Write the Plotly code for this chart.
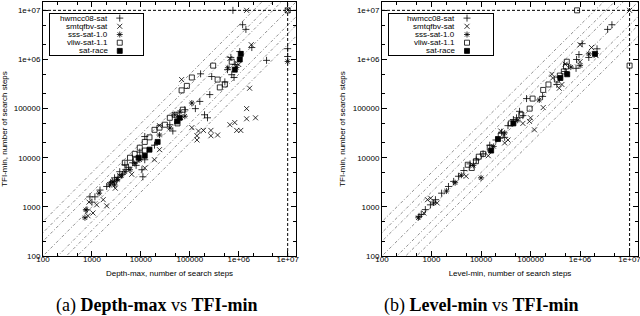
import plotly.graph_objects as go

# ---------------- data: (a) Depth-max vs TFI-min ----------------
a_hwmcc_x = [7.6e5, 1e7, 1e7, 3.7e6, 1.2e6, 1.4e6, 1.85e6, 1.05e6, 6.9e5, 8.5e5, 5.9e5, 7.2e5, 5.2e5, 8.0e5,
             1.66e5, 2.8e5, 2.56e5, 1.6e5, 2.0e5, 2.3e5, 1.3e5, 7.9e4, 6.2e4, 3.9e4, 4.5e4, 1.2e4, 1.9e4,
             1.1e4, 1.05e4, 1.2e4, 6.8e3, 9.5e3, 4.7e3, 5.6e3, 3.7e3, 2.9e3, 2.4e3, 2.0e3, 1.46e3, 1.15e3,
             910, 1.0e3, 790, 3.2e3, 4.2e3, 8.0e3, 2.6e3, 3.4e3, 5.0e3]
a_hwmcc_y = [1e7, 1.66e6, 1.15e6, 9.6e5, 5.1e6, 4.1e6, 1.75e6, 1.45e6, 1.1e6, 7.9e5, 6.2e5, 4.9e5, 3.5e5, 4.3e5,
             5.1e5, 4.5e5, 1.93e5, 1.4e5, 7.5e4, 6.5e4, 1.0e5, 9.5e4, 6.0e4, 4.7e4, 3.5e4, 2.7e4, 1.8e4,
             4.1e3, 5.7e3, 9.1e3, 7.9e3, 1.3e4, 7.2e3, 6.4e3, 5.2e3, 3.9e3, 3.1e3, 2.6e3, 2.2e3, 1.6e3,
             1.6e3, 1.25e3, 870, 3.4e3, 4.6e3, 7.0e3, 3.3e3, 4.0e3, 5.8e3]

a_smt_x = [1.45e6, 1e7, 6.6e5, 1.8e6, 1.0e6, 1.67e6, 1.45e6, 1.45e6, 2.2e6, 6.6e5, 8.3e5, 9.1e5, 1.1e6,
           3.7e5, 2.7e5, 2.7e5, 1.5e5, 1.9e5, 1.4e5, 1.4e5, 1.1e5, 6.8e4, 2.4e4, 1.2e4, 1.9e4, 1.7e3,
           2.0e3, 870, 830, 1.05e3, 1.25e3, 3.7e3, 2.4e4, 3.0e3, 6.5e3]
a_smt_y = [1e7, 1e7, 1.05e6, 2.0e6, 7.9e5, 2.6e5, 1.0e5, 6.2e4, 6.5e4, 4.7e4, 5.2e4, 3.6e4, 3.6e4,
           2.9e4, 2.8e4, 3.6e4, 3.5e4, 3.6e4, 2.3e4, 2.8e4, 4.1e4, 3.9e5, 4.5e4, 6.2e3, 9.1e3, 1.4e3,
           1.05e3, 1.25e3, 660, 750, 1.1e3, 4.3e3, 1.46e4, 2.4e3, 4.6e3]

a_sss_x = [1e7, 750, 720, 2.3e3, 2.9e3, 4.7e3, 6.0e3, 7.5e3, 9.5e3, 4.9e4, 7.9e4, 6.2e4, 6.0e5, 9.0e5,
           2.4e4, 3.9e4, 3.3e3, 1.4e3, 1.1e5, 2.7e3, 4.0e3]
a_sss_y = [9.1e5, 870, 600, 2.8e3, 2.8e3, 5.2e3, 5.7e3, 7.6e3, 9.1e3, 7.5e4, 7.0e4, 8.5e4, 6.8e5, 6.9e5,
           2.9e4, 4.0e4, 3.6e3, 1.9e3, 1.3e5, 3.2e3, 4.3e3]

a_vliw_x = [1e7, 3.0e5, 1.1e5, 8.7e4, 6.8e4, 7.2e4, 3.7e5, 4.1e5, 5.2e5, 7.2e5, 4.9e4, 3.9e4, 3.1e4,
            2.4e4, 1.9e4, 1.5e4, 1.2e4, 9.5e3, 7.5e3, 7.9e3, 4.7e3, 6.0e3, 1.2e4, 5.6e4]
a_vliw_y = [1e7, 7.5e5, 4.3e5, 2.9e5, 2.35e5, 9.5e4, 3.9e5, 2.7e5, 3.1e5, 9.0e5, 7.5e4, 6.5e4, 4.7e4,
            4.1e4, 3.7e4, 2.6e4, 2.1e4, 1.6e4, 1.2e4, 9.1e3, 7.9e3, 1.0e4, 1.4e4, 5.0e4]

a_race_x = [1.1e6, 1.05e6, 8.3e5, 6.2e4, 5.5e4, 2.2e4, 1.5e4, 1.2e4, 9.0e3]
a_race_y = [1.3e6, 1.0e6, 6.2e5, 6.5e4, 5.5e4, 2.1e4, 1.46e4, 1.1e4, 1.0e4]

# ---------------- data: (b) Level-min vs TFI-min ----------------
b_hwmcc_x = [4.4e6, 3.6e6, 1.1e6, 2.2e6, 9.5e5, 1.5e6, 8.5e5, 8.3e5, 5.0e5, 3.4e5, 1.75e5, 8.3e4, 6.0e4,
             4.5e4, 3.5e4, 2.6e4, 1.5e4, 1.1e4, 8.0e3, 6.0e3, 4.5e3, 3.5e3, 2.8e3, 2.2e3, 1.6e3, 1.2e3,
             950, 750, 620, 560, 2.0e4, 5.2e4, 7.0e4, 3.0e4]
b_hwmcc_y = [5.1e6, 4.1e6, 2.1e6, 1.65e6, 1.26e6, 1.1e6, 1.0e6, 6.6e5, 5.7e5, 3.1e5, 1.77e5, 1.6e5, 8.8e4,
             6.0e4, 4.5e4, 3.3e4, 1.8e4, 1.2e4, 9.0e3, 7.5e3, 5.5e3, 4.2e3, 3.3e3, 2.6e3, 1.9e3, 1.4e3,
             1.1e3, 880, 700, 640, 2.3e4, 6.5e4, 7.2e4, 2.6e4]

b_smt_x = [1e7, 1.0e6, 1.7e6, 1.0e6, 2.1e6, 5.0e5, 2.7e5, 4.3e5, 3.8e5, 2.8e5, 1.8e5, 1.2e5, 9.5e4, 1.0e5,
           3.5e4, 3.0e4, 7.0e4, 830, 960, 700, 1.3e3, 5.0e3, 2.5e4, 1.4e4]
b_smt_y = [1e7, 2.0e6, 1.75e6, 9.0e5, 1.2e6, 8.0e5, 5.0e5, 3.1e5, 2.6e5, 4.2e5, 1.05e5, 3.7e4, 5.5e4, 6.5e4,
           2.3e4, 2.0e4, 5.0e4, 1.4e3, 1.5e3, 750, 1.2e3, 4.2e3, 3.5e4, 1.1e4]

b_sss_x = [1.5e6, 1.0e6, 540, 1.0e4, 3.0e4, 5.5e4, 1.5e5, 2.0e3, 3.0e3, 4.0e3, 7.0e3, 1.1e3, 1.8e4, 6.5e5]
b_sss_y = [1.3e6, 7.5e5, 600, 3.9e3, 3.2e4, 5.8e4, 1.5e5, 2.1e3, 3.1e3, 4.4e3, 7.0e3, 1.2e3, 1.7e4, 7.0e5]

b_vliw_x = [8.7e5, 1e7, 5.4e5, 5.2e5, 4.7e5, 3.9e5, 3.4e5, 2.3e5, 1.8e5, 1.1e5, 9.6e4, 1.1e4, 5.4e3,
            7.9e3, 6.5e4, 4.0e4, 1.5e4, 9.0e3, 2.5e4, 6.5e3]
b_vliw_y = [1e7, 7.5e5, 9.0e5, 7.2e5, 5.7e5, 4.7e5, 3.9e5, 3.1e5, 2.4e5, 1.6e5, 1.0e5, 1.2e4, 7.2e3,
            8.5e3, 7.5e4, 5.0e4, 1.6e4, 1.05e4, 2.8e4, 6.2e3]

b_race_x = [2.0e6, 5.5e5, 4.0e5, 4.5e4, 2.2e4, 1.6e4]
b_race_y = [1.3e6, 5.0e5, 4.2e5, 5.0e4, 2.4e4, 1.4e4]

series_names = ["hwmcc08-sat", "smtqfbv-sat", "sss-sat-1.0", "vliw-sat-1.1", "sat-race"]
series_symbols = ["cross-thin-open", "x-thin-open", "asterisk-open", "square-open", "square"]

RATIOS = [0.2, 1 / 3, 0.5, 1, 2, 3, 5]
LINE_X = [10, 1e8]
TIMEOUT = 1e7

tick_vals = [100, 1000, 10000, 100000, 1e6, 1e7]
tick_text = ["100", "1000", "10000", "100000", "1e+06", "1e+07"]
AX_MIN = 100  # lower end of both log axes

panels = [
    dict(xa="x", ya="y", lx="x3", ly="y3",
         data=[(a_hwmcc_x, a_hwmcc_y), (a_smt_x, a_smt_y), (a_sss_x, a_sss_y), (a_vliw_x, a_vliw_y),
               (a_race_x, a_race_y)]),
    dict(xa="x2", ya="y2", lx="x4", ly="y4",
         data=[(b_hwmcc_x, b_hwmcc_y), (b_smt_x, b_smt_y), (b_sss_x, b_sss_y), (b_vliw_x, b_vliw_y),
               (b_race_x, b_race_y)]),
]

MS = 5
lab_font = dict(family="Liberation Sans, Arial", size=8, color="black")
fig = go.Figure()
for p in panels:
    for r in RATIOS:
        fig.add_trace(go.Scatter(x=LINE_X, y=[v * r for v in LINE_X], mode="lines",
                                 line=dict(color="#444", width=0.6, dash="3px,2px,1px,2px"),
                                 xaxis=p["xa"], yaxis=p["ya"], showlegend=False, hoverinfo="skip"))
    for (xs, ys), name, sym in zip(p["data"], series_names, series_symbols):
        fig.add_trace(go.Scatter(x=xs, y=ys, mode="markers", name=name, showlegend=False,
                                 marker=dict(symbol=sym, size=MS, color="black",
                                             line=dict(color="black", width=0.8)),
                                 xaxis=p["xa"], yaxis=p["ya"]))
    # x tick labels drawn as text placed just under the bottom axis
    fig.add_trace(go.Scatter(x=tick_vals, y=[AX_MIN] * len(tick_vals), mode="text", text=tick_text,
                             textposition="bottom center", textfont=lab_font, cliponaxis=False,
                             xaxis=p["xa"], yaxis=p["ya"], showlegend=False, hoverinfo="skip"))
    # gnuplot-style key: text right-aligned, sample marker to its right
    rows = list(range(len(series_names)))
    fig.add_trace(go.Scatter(x=[0.75] * len(series_names), y=rows, mode="markers",
                             marker=dict(symbol=series_symbols, size=MS, color="black",
                                         line=dict(color="black", width=0.8)),
                             xaxis=p["lx"], yaxis=p["ly"], showlegend=False, hoverinfo="skip"))
    for row, name in zip(rows, series_names):
        fig.add_annotation(text=name, x=0.65, y=row, xref=p["lx"], yref=p["ly"], xanchor="right",
                           yanchor="middle", showarrow=False, font=lab_font)

for xa, ya in [("x", "y"), ("x2", "y2")]:
    fig.add_shape(type="line", xref=xa + " domain", yref=ya, x0=0, x1=1, y0=TIMEOUT, y1=TIMEOUT,
                  line=dict(color="black", width=1, dash="3px,2px"))
    fig.add_shape(type="line", xref=xa, yref=ya + " domain", x0=TIMEOUT, x1=TIMEOUT, y0=0, y1=1,
                  line=dict(color="black", width=1, dash="3px,2px"))

ax_common = dict(type="log", range=[2, 7.17], showline=True, linecolor="black", linewidth=1, mirror="allticks",
                 ticks="inside", ticklen=5, tickcolor="black", tickwidth=1, showgrid=False, zeroline=False,
                 tickmode="array", tickvals=tick_vals, ticktext=tick_text,
                 tickfont=lab_font,
                 minor=dict(ticks="inside", ticklen=3, tickcolor="black", dtick="D2", showgrid=False),
                 automargin=False)

leg_ax = dict(showgrid=False, zeroline=False, showticklabels=False, ticks="", showline=True, mirror=True,
              linecolor="black", linewidth=1, fixedrange=True, automargin=False)

title_font = dict(family="Liberation Sans, Arial", size=8, color="black")
ydom = [60 / 316, 314 / 316]
legy = [1 - 55 / 316, 1 - 14 / 316]

fig.update_layout(
    width=640, height=316, margin=dict(l=0, r=0, t=0, b=0, autoexpand=False),
    paper_bgcolor="white", plot_bgcolor="white", showlegend=False, hovermode=False,
    xaxis=dict(ax_common, domain=[43 / 640, 296 / 640], anchor="y", showticklabels=False,
               title=dict(text="Depth-max, number of search steps", font=title_font, standoff=14)),
    yaxis=dict(ax_common, domain=ydom, anchor="x",
               title=dict(text="TFI-min, number of search steps", font=title_font, standoff=5)),
    xaxis2=dict(ax_common, domain=[382 / 640, 638 / 640], anchor="y2", showticklabels=False,
                title=dict(text="Level-min, number of search steps", font=title_font, standoff=14)),
    yaxis2=dict(ax_common, domain=ydom, anchor="x2",
                title=dict(text="TFI-min, number of search steps", font=title_font, standoff=5)),
    xaxis3=dict(leg_ax, domain=[50 / 640, 143 / 640], range=[0, 1], anchor="y3"),
    yaxis3=dict(leg_ax, domain=legy, range=[4.5, -0.5], anchor="x3"),
    xaxis4=dict(leg_ax, domain=[389 / 640, 493 / 640], range=[0, 1], anchor="y4"),
    yaxis4=dict(leg_ax, domain=legy, range=[4.5, -0.5], anchor="x4"),
)

cap_font = dict(family="Liberation Serif, Times New Roman", size=18, color="black")
fig.add_annotation(text="(a) <b>Depth-max</b> vs <b>TFI-min</b>", x=157 / 640, y=1 - 305 / 316,
                   xref="paper", yref="paper", showarrow=False, font=cap_font, xanchor="center", yanchor="middle")
fig.add_annotation(text="(b) <b>Level-min</b> vs <b>TFI-min</b>", x=481 / 640, y=1 - 305 / 316,
                   xref="paper", yref="paper", showarrow=False, font=cap_font, xanchor="center", yanchor="middle")

fig.write_html("out.html", config={"displayModeBar": False, "staticPlot": True},
               post_script="document.body.style.margin='0';")
